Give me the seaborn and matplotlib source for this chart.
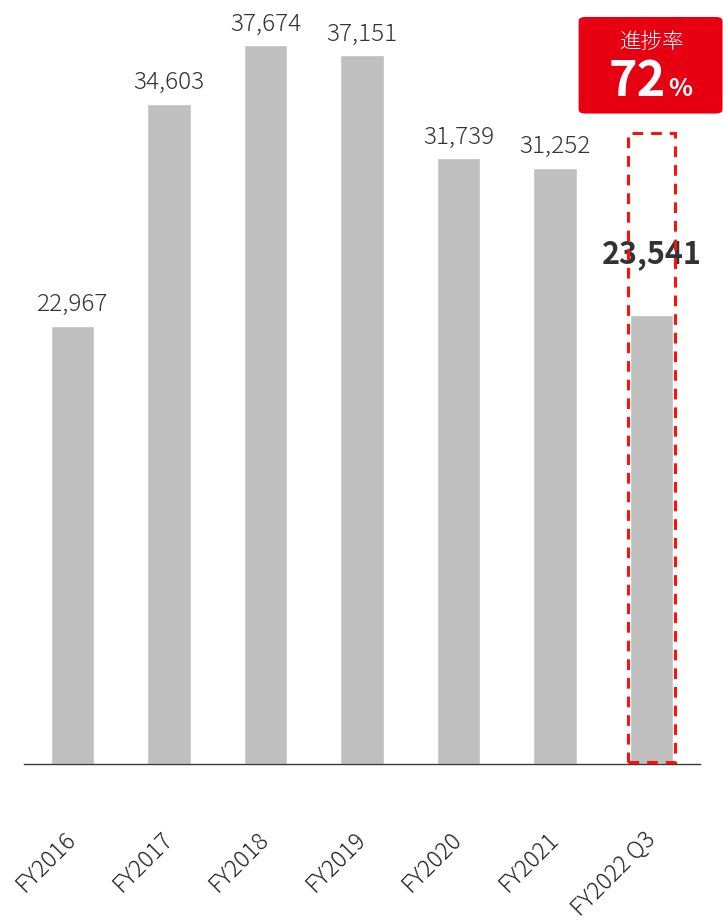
import matplotlib
matplotlib.use("Agg")
import matplotlib.pyplot as plt
import seaborn as sns
import pandas as pd
from matplotlib.patches import FancyBboxPatch, Rectangle

categories = ["FY2016", "FY2017", "FY2018", "FY2019", "FY2020", "FY2021", "FY2022 Q3"]
values = [22967, 34603, 37674, 37151, 31739, 31252, 23541]
progress_rate = 72

sns.set_theme(style="white")
plt.rcParams["font.family"] = ["Noto Sans CJK JP", "DejaVu Sans"]

df = pd.DataFrame({"period": categories, "value": values})

fig = plt.figure(figsize=(7.23, 9.22), dpi=100)
ax = fig.add_axes([24 / 723, 158 / 922, 676 / 723, 764 / 922])

sns.barplot(data=df, x="period", y="value", color="#BFBFBF", width=0.45,
            saturation=1, ax=ax, zorder=2)

ax.set_xlim(-0.5, 6.5)
ax.set_ylim(0, 40030)
ax.set_xlabel("")
ax.set_ylabel("")
ax.set_yticks([])
for side in ("top", "left", "right"):
    ax.spines[side].set_visible(False)
ax.spines["bottom"].set_color("#3a3a3a")
ax.spines["bottom"].set_linewidth(1.0)

ax.set_xticks(range(len(categories)))
ax.set_xticklabels(categories, rotation=45, ha="right", va="center",
                   rotation_mode="anchor", fontsize=16.8, color="#222222",
                   fontweight=300)
ax.tick_params(axis="x", length=0, pad=52)

# value labels
last = len(values) - 1
for i, v in enumerate(values[:-1]):
    ax.annotate(f"{v:,}", (i, v), xytext=(0, 6), textcoords="offset points",
                ha="center", va="bottom", fontsize=17.5, color="#333333",
                fontweight=300)
ax.annotate(f"{values[last]:,}", (last, values[last]), xytext=(0, 32),
            textcoords="offset points", ha="center", va="bottom",
            fontsize=22, color="#333333", fontweight="bold")

# dashed highlight around the latest period
ax.add_patch(Rectangle((last - 0.245, 100), 0.485, 32950, fill=False,
                       edgecolor="#FF1010", linewidth=2.2,
                       linestyle=(0, (3.5, 2.6)), zorder=3, clip_on=False))

# progress badge
badge = FancyBboxPatch((last - 0.757, 34080), 1.49, 5060,
                       boxstyle="round,pad=0,rounding_size=0.07",
                       mutation_aspect=3000, facecolor="#E60012",
                       edgecolor="none", zorder=4, clip_on=False)
ax.add_patch(badge)
ax.text(last, 37850, "進捗率", ha="center", va="center", fontsize=15.5,
        color="white", fontweight=300, zorder=5)
ax.text(last + 0.15, 34980, f"{progress_rate}", ha="right", va="baseline",
        fontsize=35, fontweight="bold", color="white", zorder=5)
ax.text(last + 0.17, 34980, "%", ha="left", va="baseline",
        fontsize=18, fontweight="bold", color="white", zorder=5)

fig.savefig("out.png", dpi=100, facecolor="white")
